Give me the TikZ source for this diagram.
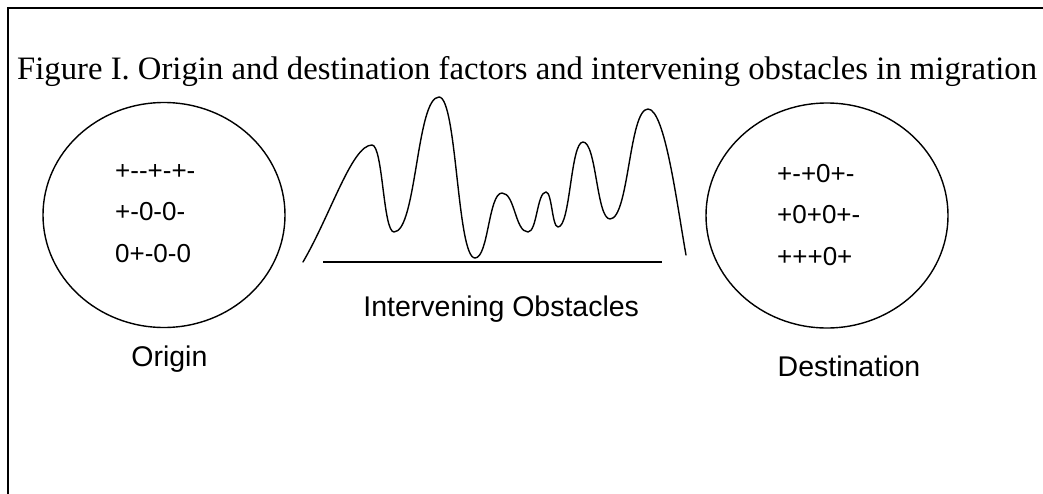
\documentclass[tikz,border=0pt]{standalone}
\usepackage{fontspec}
\setmainfont{Liberation Serif}
\newfontfamily\labelfont{Liberation Sans}
\usetikzlibrary{shapes.geometric}
\tikzset{
  region/.style={draw, ellipse, line width=1.4pt, minimum width=242pt, minimum height=225pt, inner sep=0pt},
  factors/.style={anchor=base west, inner sep=0pt, font=\labelfont\fontsize{26}{30}\selectfont},
  caption/.style={anchor=base, inner sep=0pt, font=\labelfont\fontsize{28.5}{32}\selectfont},
  titletext/.style={anchor=base west, inner sep=0pt, font=\fontsize{32.7}{36}\selectfont},
  frame/.style={line width=2pt},
  ridge/.style={line width=1.4pt, line join=round, line cap=round}
}
\begin{document}
\begin{tikzpicture}[x=1pt,y=-1pt]
\useasboundingbox (0,0) rectangle (1043,493);
% frame
\coordinate (fbl) at (8,494);
\coordinate (ftl) at (8,7.5);
\coordinate (ftr) at (1044,7.5);
\draw[frame] (fbl) -- (ftl) -- (ftr);
% title
\node[titletext] (title) at (17,79) {Figure I. Origin and destination factors and intervening obstacles in migration};
% origin
\node[region] (origin) at (164,215) {};
\node[factors] (o1) at (115,179) {+--+-+-};
\node[factors] (o2) at (115,220) {+-0-0-};
\node[factors] (o3) at (115,262) {0+-0-0};
\node[caption] (olab) at (169.4,366.7) {Origin};
% destination
\node[region] (dest) at (827,215.5) {};
\node[factors] (d1) at (777,182) {+-+0+-};
\node[factors] (d2) at (777,223) {+0+0+-};
\node[factors] (d3) at (777,265) {+++0+};
\node[caption] (dlab) at (849,376) {Destination};
% obstacles
\draw[ridge] (303,262)
  .. controls (331,214) and (352,145) .. (372,145)
  .. controls (383,145) and (383,232) .. (394,232)
  .. controls (416.5,232) and (416.5,97) .. (439,97)
  .. controls (457,97) and (457,258) .. (475,258)
  .. controls (488.5,258) and (488.5,193) .. (502,193)
  .. controls (515,193) and (515,232) .. (528,232)
  .. controls (537,232) and (537,192) .. (546,192)
  .. controls (552,192) and (552,227) .. (558,227)
  .. controls (570.5,227) and (570.5,142) .. (583,142)
  .. controls (596.5,142) and (596.5,219) .. (610,219)
  .. controls (629,219) and (629,109) .. (648,109)
  .. controls (665,109) and (677,205) .. (686,255);
\coordinate (b1) at (323,262);
\coordinate (b2) at (662,262);
\draw[line width=1.6pt] (b1) -- (b2);
\node[caption] (ilab) at (501.2,316.7) {Intervening Obstacles};
\end{tikzpicture}
\end{document}
